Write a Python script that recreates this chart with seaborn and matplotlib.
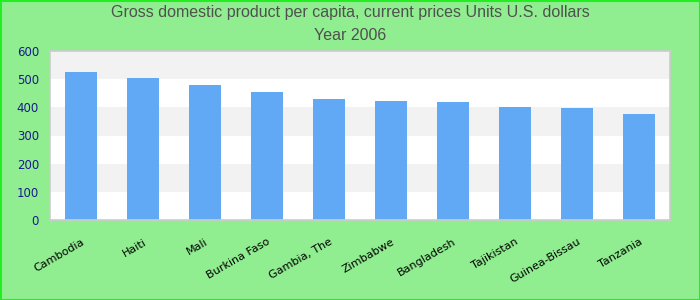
import matplotlib
matplotlib.use("Agg")
import matplotlib.pyplot as plt
import seaborn as sns
import pandas as pd
from matplotlib.patches import Rectangle

countries = ["Cambodia", "Haiti", "Mali", "Burkina Faso", "Gambia, The",
             "Zimbabwe", "Bangladesh", "Tajikistan", "Guinea-Bissau", "Tanzania"]
gdp = [525, 504, 479, 454, 430, 423, 419, 401, 398, 376]
yticks = [0, 100, 200, 300, 400, 500, 600]
title_line1 = "Gross domestic product per capita, current prices Units U.S. dollars"
title_line2 = "Year 2006"

df = pd.DataFrame({"country": countries, "gdp": gdp})

sns.set_style("white")
plt.rcParams["font.family"] = ["Liberation Sans", "DejaVu Sans"]

fig = plt.figure(figsize=(7, 3), dpi=100, facecolor="#90EE90")
ax = fig.add_axes([50/700, 1 - 220/300, 620/700, 169/300])
ax.set_facecolor("white")

# alternating bands
for i, lo in enumerate(yticks[:-1]):
    if i % 2 == 1:
        ax.axhspan(lo, lo + 100, color="#f2f2f2", zorder=0, lw=0)

sns.barplot(data=df, x="country", y="gdp", color="#61a9f5", saturation=1,
            width=0.52, ax=ax, zorder=2, linewidth=0, edgecolor="none")

ax.set_ylim(0, 600)
ax.set_xlim(-0.5, len(countries) - 0.5)
ax.set_yticks(yticks)
ax.set_yticklabels([str(v) for v in yticks], color="#1a1a8c", fontsize=8.5,
                   family="DejaVu Sans")
ax.set_xticks(range(len(countries)))
ax.set_xticklabels(countries, rotation=30, ha="right", rotation_mode="anchor",
                   fontsize=8, family="DejaVu Sans", color="black")
ax.tick_params(axis="both", length=0, pad=8)
ax.tick_params(axis="x", pad=12)
ax.set_xlabel("")
ax.set_ylabel("")
for s in ax.spines.values():
    s.set_color("#cccccc")
    s.set_linewidth(1.2)

fig.text(0.5, 1 - 13/300, title_line1,
         ha="center", va="center", fontsize=11.5, color="#505050")
fig.text(0.5, 1 - 36/300, title_line2, ha="center", va="center",
         fontsize=11.5, color="#505050")

fig.patches.append(Rectangle((0.5/700, 0.5/300), 699/700, 299/300,
                             transform=fig.transFigure, fill=False,
                             edgecolor="#22ee22", linewidth=1.5))

fig.savefig("out.png", dpi=100, facecolor=fig.get_facecolor())
